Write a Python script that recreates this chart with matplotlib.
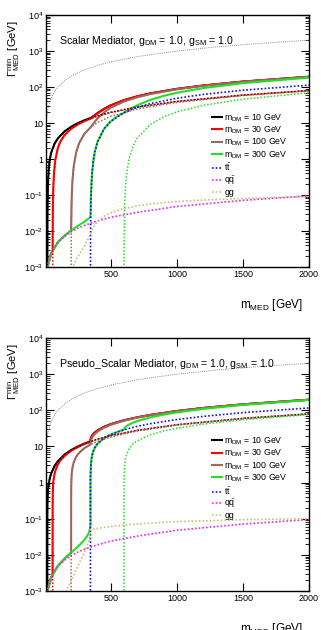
import numpy as np
import matplotlib
matplotlib.use("Agg")
import matplotlib.pyplot as plt
from matplotlib.ticker import FixedLocator, NullFormatter

plt.rcParams['font.family'] = ['Liberation Sans', 'DejaVu Sans']
plt.rcParams['mathtext.fontset'] = 'custom'
plt.rcParams['mathtext.rm'] = 'Liberation Sans'
plt.rcParams['mathtext.it'] = 'Liberation Sans:italic'

# ---------------- data (GeV) ----------------
# shared curves
qq_x = [10, 15, 20, 30, 50, 75, 100, 150, 200, 250, 300, 400, 500, 700, 1000, 1500, 2000]
qq_y = [0.0003, 0.0006, 0.00092, 0.0014, 0.0024, 0.0036, 0.0048, 0.0071, 0.0095, 0.0119,
        0.0143, 0.019, 0.024, 0.033, 0.048, 0.071, 0.095]
gam_x = [10, 20, 30, 50, 75, 100, 150, 200, 300, 400, 500, 700, 1000, 1300, 1600, 2000]
gam_y = [10, 20, 30, 50, 75, 100, 150, 200, 300, 400, 500, 700, 1000, 1300, 1600, 2000]

# scalar mediator
s_gg_x = [100, 150, 200, 250, 300, 346, 360, 380, 400, 450, 500, 600, 700, 850, 1000, 1250, 1500, 1750, 2000]
s_gg_y = [0.0001, 0.00032, 0.00084, 0.0019, 0.0038, 0.0081, 0.011, 0.015, 0.018, 0.026, 0.032,
          0.042, 0.050, 0.059, 0.066, 0.074, 0.080, 0.085, 0.09]
s_tt_x = [346, 347, 348, 350, 355, 360, 370, 380, 400, 450, 500, 600, 700, 800, 1000, 1200, 1500, 2000]
s_tt_y = [1e-5, 0.009, 0.025, 0.07, 0.23, 0.45, 0.97, 1.59, 2.98, 6.94, 11.1, 19.3, 27.1, 34.6,
          48.7, 62.2, 81.5, 112.7]

s_dm10_x = [20, 21, 22, 25, 30, 40, 50, 75, 100, 150, 200, 300, 400, 500, 700, 1000, 1500, 2000]
s_dm10_y = [1e-5, 0.024, 0.063, 0.215, 0.495, 1.03, 1.53, 2.67, 3.74, 5.81, 7.84, 11.86, 15.86,
            19.83, 27.81, 39.77, 59.68, 79.57]
s_dm30_x = [60, 61, 62, 65, 70, 80, 100, 120, 150, 200, 250, 300, 400, 500, 700, 1000, 1500, 2000]
s_dm30_y = [1e-5, 0.0142, 0.039, 0.147, 0.38, 0.92, 2.04, 3.1, 4.6, 6.9, 9.1, 11.2, 15.4, 19.5,
            27.5, 39.6, 59.5, 79.5]
s_dm100_x = [200, 201, 203, 205, 210, 220, 240, 260, 300, 350, 400, 500, 700, 1000, 1500, 2000]
s_dm100_y = [1e-5, 0.0079, 0.0405, 0.086, 0.237, 0.635, 1.61, 2.7, 4.94, 7.69, 10.3, 15.3, 24.5,
             37.4, 58.1, 78.4]
s_dm300_x = [600, 601, 603, 605, 610, 620, 640, 670, 700, 800, 900, 1000, 1200, 1500, 2000]
s_dm300_y = [1e-5, 0.0046, 0.024, 0.051, 0.142, 0.395, 1.07, 2.35, 3.8, 9.2, 14.8, 20.4, 31.0,
             46.0, 69.1]

s_tot10_x = [10, 15, 19, 20, 21, 22, 25, 30, 40, 50, 75, 100, 150, 200, 250, 300, 346, 350, 360,
             380, 400, 450, 500, 600, 700, 800, 1000, 1200, 1500, 2000]
s_tot10_y = [0.0003, 0.0006, 0.0009, 0.00095, 0.025, 0.064, 0.216, 0.497, 1.03, 1.53, 2.67, 3.75,
             5.82, 7.85, 9.86, 11.88, 13.72, 13.96, 14.73, 16.69, 18.9, 24.84, 30.99, 43.2, 55.0,
             66.5, 88.6, 110.1, 141.3, 192.5]
s_tot30_x = [10, 20, 30, 45, 59, 60, 61, 62, 65, 70, 80, 100, 120, 150, 200, 250, 300, 346, 350,
             360, 380, 400, 450, 500, 600, 700, 800, 1000, 1200, 1500, 2000]
s_tot30_y = [0.0003, 0.00095, 0.0014, 0.0022, 0.0028, 0.0029, 0.017, 0.042, 0.15, 0.385, 0.925,
             2.05, 3.11, 4.61, 6.92, 9.11, 11.25, 13.18, 13.42, 14.21, 16.19, 18.42, 24.42, 30.62,
             42.88, 54.73, 66.26, 88.38, 109.9, 141.2, 192.4]
s_tot100_x = [10, 20, 50, 100, 150, 199, 200, 201, 203, 205, 210, 220, 240, 260, 300, 346, 350,
              360, 380, 400, 450, 500, 600, 700, 800, 1000, 1200, 1500, 2000]
s_tot100_y = [0.0003, 0.00095, 0.0024, 0.0049, 0.0074, 0.0103, 0.0103, 0.018, 0.051, 0.097, 0.248,
              0.647, 1.62, 2.72, 4.96, 7.51, 7.79, 8.71, 10.93, 13.38, 19.86, 26.48, 39.37, 51.68,
              63.6, 86.21, 108.1, 139.75, 191.3]
s_tot300_x = [10, 20, 50, 100, 150, 200, 250, 300, 340, 346, 347, 348, 350, 355, 360, 370, 380,
              400, 450, 500, 550, 600, 601, 603, 605, 610, 620, 640, 670, 700, 800, 900, 1000,
              1200, 1500, 2000]
s_tot300_y = [0.0003, 0.00095, 0.0024, 0.0049, 0.0074, 0.0103, 0.0138, 0.0181, 0.0232, 0.0245,
              0.034, 0.05, 0.097, 0.26, 0.48, 1.0, 1.63, 3.04, 6.99, 11.16, 15.3, 19.38, 19.45,
              19.6, 19.8, 20.32, 21.37, 23.63, 27.25, 31.0, 43.9, 56.7, 69.3, 93.4, 127.8, 182.2]

# pseudo-scalar mediator
p_gg_x = [100, 150, 200, 250, 300, 330, 340, 346, 350, 370, 400, 500, 700, 1000, 1500, 2000]
p_gg_y = [0.0002, 0.00076, 0.002, 0.0048, 0.0113, 0.022, 0.0305, 0.049, 0.050, 0.0517, 0.054,
          0.061, 0.072, 0.083, 0.094, 0.10]
p_tt_x = [346, 346.6, 347, 350, 355, 360, 370, 380, 400, 450, 500, 600, 700, 800, 1000, 1200, 1500, 2000]
p_tt_y = [1e-5, 1.2, 1.55, 3.1, 4.68, 5.87, 7.73, 9.27, 11.84, 16.98, 21.3, 28.9, 35.9, 42.6,
          55.4, 67.8, 86.1, 116.2]

p_dm10_x = [20, 20.2, 21, 22, 25, 30, 40, 50, 75, 100, 150, 200, 300, 400, 500, 700, 1000, 1500, 2000]
p_dm10_y = [1e-5, 0.113, 0.255, 0.365, 0.597, 0.89, 1.38, 1.82, 2.88, 3.9, 5.92, 7.92, 11.92,
            15.9, 19.88, 27.84, 39.78, 59.68, 79.57]
p_dm30_x = [60, 60.2, 61, 62, 65, 70, 80, 100, 120, 150, 200, 300, 400, 500, 700, 1000, 1500, 2000]
p_dm30_y = [1e-5, 0.195, 0.44, 0.62, 1.0, 1.44, 2.1, 3.18, 4.13, 5.47, 7.59, 11.7, 15.74, 19.76,
            27.74, 39.72, 59.64, 79.54]
p_dm100_x = [200, 200.2, 201, 203, 205, 210, 220, 240, 260, 300, 350, 400, 500, 700, 1000, 1500, 2000]
p_dm100_y = [1e-5, 0.356, 0.8, 1.38, 1.8, 2.55, 3.65, 5.28, 6.61, 8.9, 11.4, 13.8, 18.2, 26.7,
             39.0, 59.2, 79.2]
p_dm300_x = [600, 600.2, 601, 603, 605, 610, 620, 640, 670, 700, 800, 900, 1000, 1200, 1500, 2000]
p_dm300_y = [1e-5, 0.617, 1.38, 2.4, 3.09, 4.37, 6.2, 8.86, 11.9, 14.3, 21.0, 26.7, 31.8, 41.4,
             54.7, 75.9]

p_tot10_x = [10, 15, 19, 20, 20.2, 21, 22, 25, 30, 40, 50, 75, 100, 150, 200, 250, 300, 340, 346,
             346.6, 347, 350, 355, 360, 370, 380, 400, 450, 500, 600, 700, 800, 1000, 1200, 1500, 2000]
p_tot10_y = [0.0003, 0.0006, 0.0009, 0.00095, 0.114, 0.256, 0.366, 0.598, 0.89, 1.38, 1.83, 2.89,
             3.91, 5.93, 7.93, 9.94, 11.95, 13.56, 13.81, 15.0, 15.38, 17.1, 18.87, 20.26, 22.52,
             24.46, 27.82, 34.95, 41.27, 52.86, 63.85, 74.54, 95.31, 115.7, 145.9, 196.0]
p_tot30_x = [10, 20, 30, 45, 59, 60, 60.2, 61, 62, 65, 70, 80, 100, 120, 150, 200, 250, 300, 340,
             346, 346.6, 347, 350, 355, 360, 370, 380, 400, 450, 500, 600, 700, 800, 1000, 1200,
             1500, 2000]
p_tot30_y = [0.0003, 0.00095, 0.0015, 0.0022, 0.0029, 0.003, 0.198, 0.443, 0.623, 1.0, 1.44, 2.11,
             3.19, 4.14, 5.48, 7.60, 9.68, 11.73, 13.37, 13.63, 14.8, 15.2, 16.9, 18.68, 20.06,
             22.33, 24.27, 27.65, 34.8, 41.15, 52.75, 63.75, 74.46, 95.25, 115.6, 145.9, 195.9]
p_tot100_x = [10, 20, 50, 100, 150, 199, 200, 200.2, 201, 203, 205, 210, 220, 240, 260, 300, 340,
              346, 346.6, 347, 350, 355, 360, 370, 380, 400, 450, 500, 600, 700, 800, 1000, 1200,
              1500, 2000]
p_tot100_y = [0.0003, 0.00095, 0.0024, 0.005, 0.0079, 0.0114, 0.0115, 0.368, 0.81, 1.39, 1.81,
              2.56, 3.66, 5.29, 6.63, 8.93, 10.99, 11.3, 12.5, 12.85, 14.6, 16.4, 17.85, 20.23,
              22.2, 25.7, 33.1, 39.64, 51.5, 62.7, 73.5, 94.5, 115.0, 145.5, 195.6]
p_tot300_x = [10, 20, 50, 100, 150, 200, 250, 300, 330, 340, 346, 346.6, 347, 350, 355, 360, 370,
              380, 400, 450, 500, 550, 600, 600.2, 601, 603, 605, 610, 620, 640, 670, 700, 800,
              900, 1000, 1200, 1500, 2000]
p_tot300_y = [0.0003, 0.00095, 0.0024, 0.005, 0.0079, 0.0115, 0.0167, 0.0256, 0.0377, 0.0467,
              0.0655, 1.25, 1.6, 3.19, 4.75, 5.94, 7.8, 9.34, 11.91, 17.06, 21.39, 25.31, 29.0,
              29.6, 30.4, 31.4, 32.1, 34.1, 36.65, 40.73, 45.85, 50.3, 63.7, 75.84, 87.3, 109.4,
              141.0, 192.3]

mdm_labels = ["10", "30", "100", "300"]

C_BLACK = "#000000"
C_RED = "#ff0000"
C_BROWN = "#9a6a5a"
C_GREEN = "#22e022"
C_BLUE = "#1010ee"
C_MAG = "#ee22ee"
C_GG = "#c8c078"
C_GRAY = "#8a8a8a"

panels = [
    ("Scalar Mediator",
     [(s_tot10_x, s_tot10_y), (s_tot30_x, s_tot30_y), (s_tot100_x, s_tot100_y), (s_tot300_x, s_tot300_y)],
     [(s_dm10_x, s_dm10_y), (s_dm30_x, s_dm30_y), (s_dm100_x, s_dm100_y), (s_dm300_x, s_dm300_y)],
     (s_tt_x, s_tt_y), (s_gg_x, s_gg_y)),
    ("Pseudo_Scalar Mediator",
     [(p_tot10_x, p_tot10_y), (p_tot30_x, p_tot30_y), (p_tot100_x, p_tot100_y), (p_tot300_x, p_tot300_y)],
     [(p_dm10_x, p_dm10_y), (p_dm30_x, p_dm30_y), (p_dm100_x, p_dm100_y), (p_dm300_x, p_dm300_y)],
     (p_tt_x, p_tt_y), (p_gg_x, p_gg_y)),
]

fig = plt.figure(figsize=(3.21, 6.30), dpi=100)
rects = [[46 / 321, 1 - 267 / 630, 263 / 321, 252 / 630],
         [46 / 321, 1 - 591 / 630, 263 / 321, 253 / 630]]
colors = [C_BLACK, C_RED, C_BROWN, C_GREEN]

for rect, (name, totals, dms, tt, gg) in zip(rects, panels):
    ax = fig.add_axes(rect)
    handles = []
    for (x, y), c, lab in zip(totals, colors, mdm_labels):
        h, = ax.plot(x, y, color=c, lw=1.5, solid_joinstyle='round',
                     label=r"m$_{\rm DM}$ = " + lab + " GeV")
        handles.append(h)
    for (x, y), c in zip(dms, colors):
        ax.plot(x, y, color=c, lw=1.1, ls=(0, (1, 1.2)))
    h_tt, = ax.plot(tt[0], tt[1], color=C_BLUE, lw=1.2, ls=(0, (1, 1.2)), label=r"t$\bar{\rm t}$")
    h_qq, = ax.plot(qq_x, qq_y, color=C_MAG, lw=1.2, ls=(0, (1, 1.2)), label=r"q$\bar{\rm q}$")
    h_gg, = ax.plot(gg[0], gg[1], color=C_GG, lw=1.2, ls=(0, (1, 1.2)), label="gg")
    ax.plot(gam_x, gam_y, color=C_GRAY, lw=0.7, ls=(0, (1, 1.2)))
    handles += [h_tt, h_qq, h_gg]

    ax.set_yscale('log')
    ax.set_xlim(10, 2000)
    ax.set_ylim(1e-3, 1e4)
    ax.xaxis.set_major_locator(FixedLocator([500, 1000, 1500, 2000]))
    ax.set_xticklabels(["500", "1000", "1500", "2000"])
    ax.yaxis.set_major_locator(FixedLocator([1e-3, 1e-2, 1e-1, 1, 10, 1e2, 1e3, 1e4]))
    ax.set_yticklabels([r"$10^{-3}$", r"$10^{-2}$", r"$10^{-1}$", "1", "10",
                        r"$10^{2}$", r"$10^{3}$", r"$10^{4}$"])
    minors = [m * 10.0 ** e for e in range(-3, 4) for m in range(2, 10)]
    ax.yaxis.set_minor_locator(FixedLocator(minors))
    ax.yaxis.set_minor_formatter(NullFormatter())
    ax.tick_params(which='both', direction='in', top=True, right=True, labelsize=6.5, pad=2)
    ax.tick_params(which='major', length=6, width=0.8)
    ax.tick_params(which='minor', length=3, width=0.6)
    for sp in ax.spines.values():
        sp.set_linewidth(1.0)

    ax.text(0.049, 0.885, name + r", g$_{\rm DM}$ = 1.0, g$_{\rm SM}$ = 1.0",
            transform=ax.transAxes, fontsize=7.6, ha='left', va='baseline')

    ax.set_xlabel(r"m$_{\rm MED}$ [GeV]", fontsize=8.5, loc='right')
    ax.xaxis.set_label_coords(0.977, -0.118)
    ax.set_ylabel(r"$\Gamma_{\rm MED}^{\rm min}$ [GeV]", fontsize=8, loc='top')
    ax.yaxis.set_label_coords(-0.09, 0.98)

    ax.legend(handles=handles, loc='upper left', bbox_to_anchor=(0.63, 0.615),
              frameon=False, fontsize=6.3, handlelength=1.15, handletextpad=0.3,
              labelspacing=0.1, borderpad=0.0, borderaxespad=0.0)

fig.savefig("out.png", dpi=100)
